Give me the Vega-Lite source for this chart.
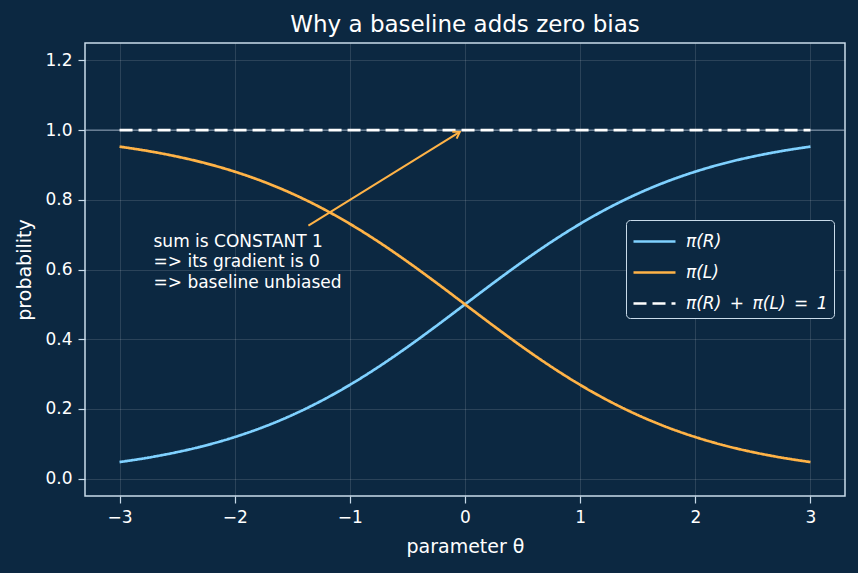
{
  "$schema": "https://vega.github.io/schema/vega-lite/v6.json",
  "width": 760,
  "height": 453,
  "autosize": {"type": "none"},
  "padding": {"left": 85, "top": 43, "right": 13, "bottom": 77},
  "background": "#0c2841",
  "title": {"text": "Why a baseline adds zero bias", "color": "#ffffff", "fontSize": 23, "font": "DejaVu Sans", "fontWeight": "normal", "anchor": "middle", "offset": 6},
  "config": {
    "view": {"stroke": "#c9dbea", "strokeWidth": 1.5},
    "axis": {
      "domain": false,
      "grid": true,
      "gridColor": "#ffffff",
      "gridOpacity": 0.13,
      "gridWidth": 1,
      "tickColor": "#c9dbea",
      "tickSize": 7,
      "tickWidth": 1.2,
      "labelColor": "#ffffff",
      "labelFont": "DejaVu Sans",
      "labelFontSize": 17,
      "labelPadding": 6,
      "titleColor": "#ffffff",
      "titleFont": "DejaVu Sans",
      "titleFontSize": 19,
      "titleFontWeight": "normal"
    },
    "legend": {
      "orient": "none",
      "legendX": 541,
      "legendY": 177,
      "fillColor": "#0c2841",
      "strokeColor": "#c9dbea",
      "cornerRadius": 4,
      "padding": 6,
      "labelColor": "#ffffff",
      "labelFont": "DejaVu Sans",
      "labelFontSize": 17,
      "labelFontStyle": "italic",
      "labelOffset": 23,
      "symbolType": "M-1,0L2,0",
      "symbolStrokeWidth": 3.2,
      "symbolSize": 784,
      "rowPadding": 7
    }
  },
  "datasets": {
    "curves": [
      {"theta": -3.0, "R": 0.0474, "L": 0.9526, "S": 1},
      {"theta": -2.75, "R": 0.0601, "L": 0.9399, "S": 1},
      {"theta": -2.5, "R": 0.0759, "L": 0.9241, "S": 1},
      {"theta": -2.25, "R": 0.0953, "L": 0.9047, "S": 1},
      {"theta": -2.0, "R": 0.1192, "L": 0.8808, "S": 1},
      {"theta": -1.75, "R": 0.148, "L": 0.852, "S": 1},
      {"theta": -1.5, "R": 0.1824, "L": 0.8176, "S": 1},
      {"theta": -1.25, "R": 0.2227, "L": 0.7773, "S": 1},
      {"theta": -1.0, "R": 0.2689, "L": 0.7311, "S": 1},
      {"theta": -0.75, "R": 0.3208, "L": 0.6792, "S": 1},
      {"theta": -0.5, "R": 0.3775, "L": 0.6225, "S": 1},
      {"theta": -0.25, "R": 0.4378, "L": 0.5622, "S": 1},
      {"theta": 0.0, "R": 0.5, "L": 0.5, "S": 1},
      {"theta": 0.25, "R": 0.5622, "L": 0.4378, "S": 1},
      {"theta": 0.5, "R": 0.6225, "L": 0.3775, "S": 1},
      {"theta": 0.75, "R": 0.6792, "L": 0.3208, "S": 1},
      {"theta": 1.0, "R": 0.7311, "L": 0.2689, "S": 1},
      {"theta": 1.25, "R": 0.7773, "L": 0.2227, "S": 1},
      {"theta": 1.5, "R": 0.8176, "L": 0.1824, "S": 1},
      {"theta": 1.75, "R": 0.852, "L": 0.148, "S": 1},
      {"theta": 2.0, "R": 0.8808, "L": 0.1192, "S": 1},
      {"theta": 2.25, "R": 0.9047, "L": 0.0953, "S": 1},
      {"theta": 2.5, "R": 0.9241, "L": 0.0759, "S": 1},
      {"theta": 2.75, "R": 0.9399, "L": 0.0601, "S": 1},
      {"theta": 3.0, "R": 0.9526, "L": 0.0474, "S": 1}
    ],
    "ref": [{"p": 1}],
    "arrow": [{"theta": -1.36, "p": 0.726, "theta2": -0.045, "p2": 0.995}],
    "note": [{"theta": -2.705, "p": 0.702, "label": "sum is CONSTANT 1\n=> its gradient is 0\n=> baseline unbiased"}]
  },
  "layer": [
    {
      "data": {"name": "ref"},
      "mark": {"type": "rule", "color": "#9fb3c6", "opacity": 0.7, "strokeWidth": 1.2},
      "encoding": {
        "y": {"field": "p", "type": "quantitative", "title": "probability"}
      }
    },
    {
      "data": {"name": "curves"},
      "transform": [{"fold": ["R", "L", "S"], "as": ["series", "p"]}],
      "mark": {"type": "line", "interpolate": "monotone"},
      "encoding": {
        "x": {"field": "theta", "type": "quantitative", "title": "parameter θ",
              "scale": {"domain": [-3.3, 3.3], "nice": false, "zero": false},
              "axis": {"values": [-3, -2, -1, 0, 1, 2, 3], "format": "d", "titlePadding": 12}},
        "y": {"field": "p", "type": "quantitative", "title": "probability",
              "scale": {"domain": [-0.05, 1.25], "nice": false, "zero": false},
              "axis": {"values": [0, 0.2, 0.4, 0.6, 0.8, 1.0, 1.2], "format": ".1f", "titlePadding": 10}},
        "color": {"field": "series", "type": "nominal",
                  "scale": {"domain": ["R", "L", "S"], "range": ["#7fd1ff", "#ffb347", "#ffffff"]},
                  "legend": {"title": null, "labelExpr": "datum.label == 'R' ? 'π(R)' : datum.label == 'L' ? 'π(L)' : 'π(R)\u2002+\u2002π(L)\u2002=\u20021'"}},
        "strokeDash": {"field": "series", "type": "nominal",
                  "scale": {"domain": ["R", "L", "S"], "range": [[1, 0], [1, 0], [13, 6]]},
                  "legend": {"title": null, "labelExpr": "datum.label == 'R' ? 'π(R)' : datum.label == 'L' ? 'π(L)' : 'π(R)\u2002+\u2002π(L)\u2002=\u20021'"}},
        "strokeWidth": {"field": "series", "type": "nominal",
                  "scale": {"domain": ["R", "L", "S"], "range": [2.7, 2.7, 3.4]},
                  "legend": null}
      }
    },
    {
      "data": {"name": "arrow"},
      "mark": {"type": "rule", "color": "#ffb347", "strokeWidth": 2},
      "encoding": {
        "x": {"field": "theta", "type": "quantitative", "title": "parameter θ"},
        "y": {"field": "p", "type": "quantitative", "title": "probability"},
        "x2": {"field": "theta2"},
        "y2": {"field": "p2"}
      }
    },
    {
      "data": {"name": "arrow"},
      "mark": {"type": "point", "shape": "M-0.55,0.85L0,0L0.55,0.85", "filled": false, "stroke": "#ffb347", "strokeWidth": 2, "size": 220, "angle": 58, "opacity": 1},
      "encoding": {
        "x": {"field": "theta2", "type": "quantitative", "title": "parameter θ"},
        "y": {"field": "p2", "type": "quantitative", "title": "probability"}
      }
    },
    {
      "data": {"name": "note"},
      "mark": {"type": "text", "align": "left", "baseline": "top", "font": "DejaVu Sans", "fontSize": 17, "lineHeight": 20.5, "lineBreak": "\n", "color": "#ffffff"},
      "encoding": {
        "x": {"field": "theta", "type": "quantitative", "title": "parameter θ"},
        "y": {"field": "p", "type": "quantitative", "title": "probability"},
        "text": {"field": "label"}
      }
    }
  ]
}
